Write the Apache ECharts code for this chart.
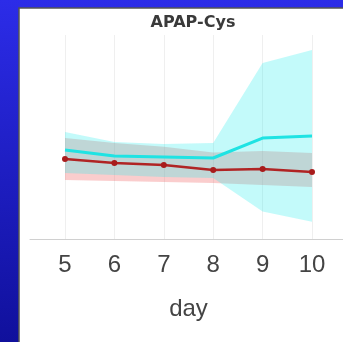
<!DOCTYPE html>
<html>
<head>
<meta charset="utf-8">
<script src="https://cdn.jsdelivr.net/npm/echarts@6/dist/echarts.min.js"></script>
<style>
  html, body { margin: 0; padding: 0; }
  #chart { width: 343px; height: 342px; }
</style>
</head>
<body>
<div id="chart"></div>
<script>
// Days on the x axis
var days = ['5', '6', '7', '8', '9', '10'];

// Cyan group: mean and confidence band
var cyanMean  = [43.6, 40.7, 40.2, 39.7, 49.5, 50.5];
var cyanUpper = [52.5, 47.5, 46.6, 47.1, 86.3, 92.6];
var cyanLower = [32.4, 31.4, 30.4, 29.9, 13.5, 8.4];

// Red group: mean and confidence band
var redMean  = [39.2, 37.3, 36.3, 33.8, 34.3, 32.8];
var redUpper = [49.5, 47.1, 45.2, 42.4, 43.1, 42.2];
var redLower = [28.9, 28.4, 27.9, 27.5, 26.5, 25.5];

function diff(up, lo) {
  return up.map(function (v, i) { return +(v - lo[i]).toFixed(2); });
}

// A shaded band built from a hidden lower line and a stacked filled width
function bandSeries(name, lower, upper, fill) {
  return [
    {
      name: name + '-lo', type: 'line', stack: name, data: lower,
      symbol: 'none', lineStyle: { opacity: 0 }, silent: true, z: 1
    },
    {
      name: name + '-hi', type: 'line', stack: name, data: diff(upper, lower),
      symbol: 'none', lineStyle: { opacity: 0 }, silent: true, z: 1,
      areaStyle: { color: fill, opacity: 1 }
    }
  ];
}

var chart = echarts.init(document.getElementById('chart'));

var option = {
  animation: false,
  backgroundColor: {
    type: 'linear', x: 0, y: 0, x2: 0, y2: 1,
    colorStops: [
      { offset: 0, color: '#2C2CE8' },
      { offset: 1, color: '#10109C' }
    ]
  },
  graphic: [
    {
      type: 'rect', z: -100,
      shape: { x: 19, y: 8, width: 330, height: 340 },
      style: { fill: '#ffffff', stroke: '#555555', lineWidth: 1.5 }
    }
  ],
  title: {
    text: 'APAP-Cys',
    left: 188, top: 10, textAlign: 'center',
    textStyle: { fontFamily: 'DejaVu Sans', fontSize: 16, fontWeight: 'bold', color: '#3A3A3A' }
  },
  grid: [
    { left: 65, right: 31, top: 35, bottom: 103 },
    { left: 30, right: 0, top: 35, bottom: 103 }
  ],
  xAxis: [
    {
      type: 'category', gridIndex: 0, data: days, boundaryGap: false,
      name: 'day', nameLocation: 'middle', nameGap: 58,
      nameTextStyle: { fontFamily: 'Liberation Sans', fontSize: 24, color: '#444444' },
      axisLine: { show: false },
      axisTick: { show: false },
      axisLabel: { fontFamily: 'Liberation Sans', fontSize: 24, color: '#444444', margin: 14 },
      splitLine: { show: true, lineStyle: { color: '#EFEFEF', width: 1 } }
    },
    {
      type: 'value', gridIndex: 1, min: 0, max: 1,
      axisLine: { show: true, lineStyle: { color: '#D0D0D0', width: 1 } },
      axisTick: { show: false }, axisLabel: { show: false }, splitLine: { show: false }
    }
  ],
  yAxis: [
    { type: 'value', gridIndex: 0, min: 0, max: 100, show: false },
    { type: 'value', gridIndex: 1, min: 0, max: 1, show: false }
  ],
  series: [].concat(
    bandSeries('redBand', redLower, redUpper, 'rgba(240,90,90,0.30)'),
    bandSeries('cyanBand', cyanLower, cyanUpper, 'rgba(40,236,236,0.28)'),
    [
      {
        name: 'cyan', type: 'line', data: cyanMean, z: 3,
        symbol: 'none',
        lineStyle: { color: '#1FE3E3', width: 3 }
      },
      {
        name: 'red', type: 'line', data: redMean, z: 4,
        symbol: 'circle', symbolSize: 6,
        itemStyle: { color: '#A81C1C' },
        lineStyle: { color: '#B02424', width: 2.5 }
      }
    ]
  )
};

chart.setOption(option);
</script>
</body>
</html>
